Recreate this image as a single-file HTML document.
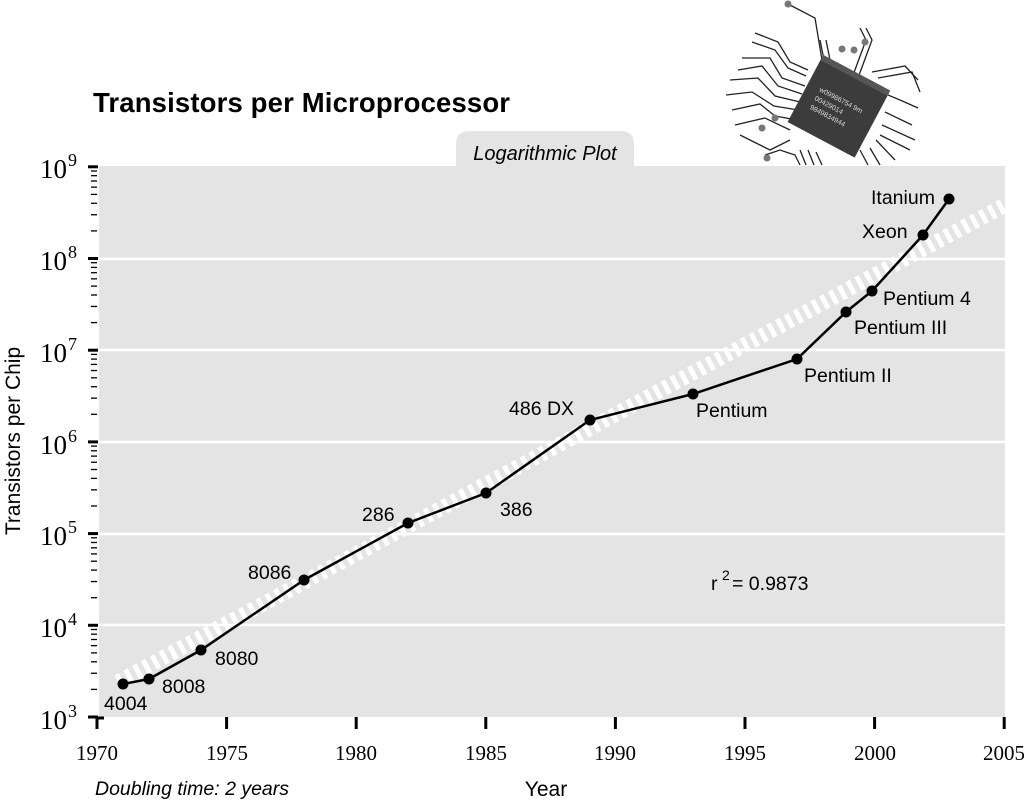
<!DOCTYPE html>
<html><head><style>
body{margin:0;background:#fff;}
svg text{font-family:"Liberation Sans",sans-serif;}
.s{font-family:"Liberation Serif",serif;}
</style></head><body>
<svg width="1024" height="804" xmlns="http://www.w3.org/2000/svg">
<!-- chip -->
<g stroke="#222" stroke-width="1.3" fill="none">
<path d="M788,4 L815,18 L822,60 L830,75"/>
<path d="M820,40 L828,80"/><path d="M826,40 L834,80"/>
<path d="M860,28 L866,40 L852,78"/><path d="M866,28 L872,40 L858,78"/>
<path d="M755,33 L778,42 L790,62 L808,70"/>
<path d="M752,42 L775,50 L788,68 L806,76"/>
<path d="M742,58 L770,58 L782,78 L805,86"/>
<path d="M738,70 L762,66 L778,86 L802,94"/>
<path d="M730,80 L758,78 L775,96 L800,102"/>
<path d="M726,95 L752,92 L774,106 L798,110"/>
<path d="M732,110 L760,104 L775,116 L797,120"/>
<path d="M735,125 L765,118 L790,130"/>
<path d="M740,135 L770,150 L790,140"/>
<path d="M765,155 L780,150 L795,155 L800,165"/>
<path d="M872,72 L905,66 L918,80"/><path d="M878,78 L912,72 L920,92"/>
<path d="M888,95 L900,100 L918,108"/><path d="M885,112 L912,125"/>
<path d="M882,125 L915,140"/><path d="M880,135 L910,150"/>
<path d="M800,150 L806,165"/><path d="M808,150 L814,165"/><path d="M816,152 L822,165"/>
<path d="M860,150 L868,165"/><path d="M870,148 L880,165"/><path d="M876,140 L895,160"/>
</g>
<g fill="#777"><circle cx="788" cy="4" r="3.5"/><circle cx="842" cy="49" r="3.5"/><circle cx="854" cy="50" r="3.5"/><circle cx="865" cy="42" r="3.5"/><circle cx="775" cy="118" r="3.5"/><circle cx="762" cy="128" r="3.5"/><circle cx="767" cy="158" r="3.5"/></g>
<g transform="translate(838,108) rotate(28)">
<rect x="-38" y="-36" width="76" height="72" fill="#3c3c3c"/>
<rect x="-38" y="-40" width="76" height="6" fill="#555"/>
<text x="-25" y="-6" font-size="7" fill="#ddd">w09986754 9m</text>
<text x="-25" y="4" font-size="7" fill="#ddd">00429014</text>
<text x="-25" y="14" font-size="7" fill="#ddd">9849834944</text>
</g>
<text x="93" y="112" font-size="27.5" font-weight="bold" fill="#000" textLength="417">Transistors per Microprocessor</text>
<!-- tab -->
<path d="M456,166 L456,144 Q456,131 470,131 L620,131 Q634,131 634,144 L634,166 Z" fill="#e4e4e4"/>
<text x="545" y="160" font-size="20" font-style="italic" text-anchor="middle">Logarithmic Plot</text>
<rect x="99" y="166" width="906" height="551" fill="#e4e4e4"/>
<g stroke="#fff" stroke-width="2.5">
<line x1="99" y1="259" x2="1005" y2="259"/><line x1="99" y1="350" x2="1005" y2="350"/>
<line x1="99" y1="442" x2="1005" y2="442"/><line x1="99" y1="534" x2="1005" y2="534"/>
<line x1="99" y1="625" x2="1005" y2="625"/>
</g>
<line x1="118" y1="682" x2="1005" y2="205" stroke="#fff" stroke-width="15" stroke-dasharray="5 5"/>
<g id="ticks" stroke="#000"></g>
<!-- y labels -->
<g font-size="27">
<text x="40" y="178" class="s">10</text><text x="40" y="270" class="s">10</text><text x="40" y="362" class="s">10</text><text x="40" y="454" class="s">10</text><text x="40" y="545" class="s">10</text><text x="40" y="637" class="s">10</text><text x="40" y="729" class="s">10</text>
</g>
<g font-size="18">
<text x="68" y="166" class="s">9</text><text x="68" y="258" class="s">8</text><text x="68" y="350" class="s">7</text><text x="68" y="442" class="s">6</text><text x="68" y="533" class="s">5</text><text x="68" y="625" class="s">4</text><text x="68" y="717" class="s">3</text>
</g>
<g font-size="21" text-anchor="middle">
<text x="97" y="760" class="s">1970</text><text x="227" y="760" class="s">1975</text><text x="356" y="760" class="s">1980</text><text x="486" y="760" class="s">1985</text><text x="615" y="760" class="s">1990</text><text x="745" y="760" class="s">1995</text><text x="875" y="760" class="s">2000</text><text x="1004" y="760" class="s">2005</text>
</g>
<text x="546" y="796" font-size="21" text-anchor="middle">Year</text>
<text x="95" y="795" font-size="19.5" font-style="italic">Doubling time: 2 years</text>
<text transform="translate(20,441) rotate(-90)" font-size="21" text-anchor="middle">Transistors per Chip</text>
<polyline fill="none" stroke="#000" stroke-width="2.5" points="123,684 149,679 201,650 304,580 408,523 486,493 590,420 693,394 797,359 846,312 872,291 923,235 949,199"/>
<g fill="#000">
<circle cx="123" cy="684" r="5.5"/><circle cx="149" cy="679" r="5.5"/><circle cx="201" cy="650" r="5.5"/><circle cx="304" cy="580" r="5.5"/><circle cx="408" cy="523" r="5.5"/><circle cx="486" cy="493" r="5.5"/><circle cx="590" cy="420" r="5.5"/><circle cx="693" cy="394" r="5.5"/><circle cx="797" cy="359" r="5.5"/><circle cx="846" cy="312" r="5.5"/><circle cx="872" cy="291" r="5.5"/><circle cx="923" cy="235" r="5.5"/><circle cx="949" cy="199" r="5.5"/>
</g>
<g font-size="19.5">
<text x="104" y="710">4004</text><text x="162" y="693">8008</text><text x="215" y="665">8080</text>
<text x="248" y="579">8086</text><text x="362" y="521">286</text><text x="500" y="516">386</text>
<text x="509" y="415">486 DX</text><text x="696" y="417">Pentium</text><text x="804" y="382">Pentium II</text>
<text x="854" y="334">Pentium III</text><text x="883" y="305">Pentium 4</text><text x="862" y="238">Xeon</text><text x="871" y="204">Itanium</text>
<text x="711" y="590">r</text><text x="722" y="580" font-size="14">2</text><text x="732" y="590">= 0.9873</text>
</g>
</svg>
<script>
var g=document.getElementById('ticks'),s='';
for(var d=0;d<6;d++){var base=717-d*91.7;for(var k=2;k<10;k++){var y=base-Math.log10(k)*91.7;s+='<line x1="91" x2="97" y1="'+y+'" y2="'+y+'" stroke-width="1.3"/>';}}
for(var d=0;d<7;d++){var y=717-d*91.7;s+='<line x1="88" x2="98" y1="'+y+'" y2="'+y+'" stroke-width="3"/>';}
for(var i=0;i<8;i++){var x=97+i*129.6;s+='<line x1="'+x+'" x2="'+x+'" y1="717" y2="729" stroke-width="3"/>';}
s+='<line x1="97" x2="104" y1="718" y2="718" stroke-width="3"/>';
g.innerHTML=s;
</script>
</body></html>
